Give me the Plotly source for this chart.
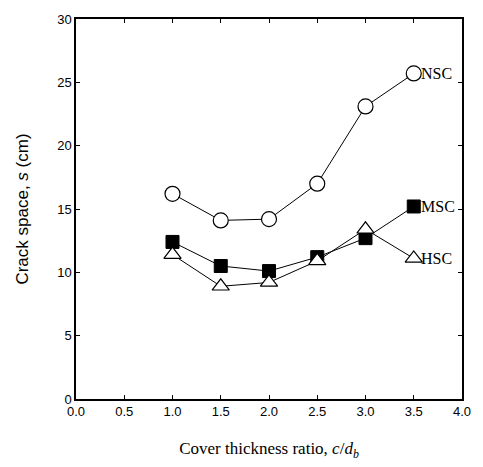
import plotly.graph_objects as go

x_ratio = [1.0, 1.5, 2.0, 2.5, 3.0, 3.5]
nsc = [16.2, 14.1, 14.2, 17.0, 23.1, 25.7]
msc = [12.4, 10.5, 10.1, 11.2, 12.7, 15.2]
hsc = [11.4, 8.9, 9.2, 10.9, 13.4, 11.1]
series_names = ["NSC", "MSC", "HSC"]
x_ticks = [0.0, 0.5, 1.0, 1.5, 2.0, 2.5, 3.0, 3.5, 4.0]
y_ticks = [0, 5, 10, 15, 20, 25, 30]

fig = go.Figure()
line = dict(color="black", width=1)
fig.add_trace(go.Scatter(x=x_ratio, y=nsc, mode="lines+markers", line=line,
                         marker=dict(symbol="circle", size=15, color="white",
                                     line=dict(color="black", width=1.2)), name="NSC"))
fig.add_trace(go.Scatter(x=x_ratio, y=msc, mode="lines+markers", line=line,
                         marker=dict(symbol="square", size=13, color="black",
                                     line=dict(color="black", width=1)), name="MSC"))
fig.add_trace(go.Scatter(x=x_ratio, y=hsc, mode="lines+markers", line=line,
                         marker=dict(symbol="triangle-up", size=15, color="white",
                                     line=dict(color="black", width=1.2)), name="HSC"))

for name, ys in zip(series_names, [nsc, msc, hsc]):
    fig.add_annotation(x=x_ratio[-1], y=ys[-1], text=name, showarrow=False,
                       xanchor="left", xshift=5,
                       font=dict(family="Liberation Serif", size=16, color="black"))

axis_common = dict(showline=True, linecolor="black", linewidth=1.5, mirror="ticks",
                   ticks="inside", ticklen=4, tickcolor="black", showgrid=False,
                   zeroline=False,
                   tickfont=dict(family="Liberation Sans Narrow, Liberation Sans", size=13, color="black"))

fig.update_xaxes(range=[0, 4], tickvals=x_ticks,
                 ticktext=[f"{v:.1f}" for v in x_ticks],
                 title=dict(text="Cover thickness ratio, <i>c</i>/<i>d</i><sub><i>b</i></sub>",
                            font=dict(family="Liberation Serif", size=17, color="black"),
                            standoff=24),
                 **axis_common)
fig.update_yaxes(range=[0, 30], tickvals=y_ticks,
                 title=dict(text="Crack space, <i>s</i> (cm)",
                            font=dict(family="Liberation Sans Narrow, Liberation Sans", size=17, color="black"),
                            standoff=24),
                 **axis_common)

fig.update_layout(width=483, height=467, margin=dict(l=76, r=15, t=19, b=64),
                  paper_bgcolor="white", plot_bgcolor="white", showlegend=False)

fig.write_html("out.html")
